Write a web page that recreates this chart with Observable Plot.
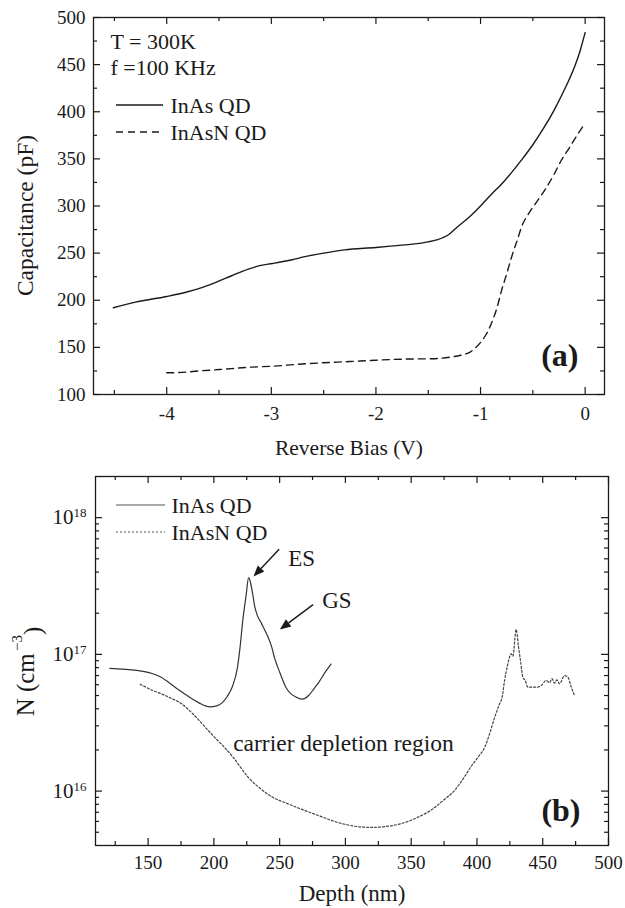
<!DOCTYPE html>
<html><head><meta charset="utf-8">
<script src="https://cdn.jsdelivr.net/npm/d3@7"></script>
<script src="https://cdn.jsdelivr.net/npm/@observablehq/plot@0.6"></script>
<style>
body{margin:0;background:#fff}
#chart{width:625px}
svg{display:block}
#chart svg, #chart svg text{font-family:"Liberation Serif","Times New Roman",serif !important;}
</style>
</head><body><div id="chart"></div>
<script>
// ---------- Panel (a) data: C-V ----------
const biasInAs = [-4.51,-4.30,-4.00,-3.80,-3.65,-3.53,-3.38,-3.22,-3.10,-2.99,-2.80,-2.69,-2.50,-2.30,-2.00,-1.80,-1.65,-1.50,-1.42,-1.30,-1.23,-1.11,-1.00,-0.90,-0.80,-0.70,-0.60,-0.50,-0.40,-0.30,-0.20,-0.10,-0.05,0];
const capInAs  = [192,198,204,209,214,219,226,233,237,239,243,246,250,253.5,256,258,259.5,262,264,270,277,288,300,312,323,336,350,365,382,401,423,448,464,484];
const biasInAsN = [-4.00,-3.85,-3.69,-3.50,-3.38,-3.20,-2.99,-2.75,-2.53,-2.25,-2.00,-1.75,-1.46,-1.30,-1.19,-1.10,-1.04,-0.98,-0.94,-0.88,-0.84,-0.80,-0.75,-0.70,-0.65,-0.60,-0.54,-0.46,-0.38,-0.30,-0.23,-0.15,-0.077,0];
const capInAsN  = [123,123.5,125,126.5,127.5,129,130,132,133.5,135,136.4,137.5,138,139.5,141.7,145,150.5,158,165,180,193,210,228,247,263.5,280,292,305,318,333,348,362,375,388];
const biasMajorTicks = [-4,-3,-2,-1,0];
const biasMinorTicks = [-4.5,-3.5,-2.5,-1.5,-0.5];
const capMajorTicks = [100,150,200,250,300,350,400,450,500];
const capMinorTicks = [125,175,225,275,325,375,425,475];

// ---------- Panel (b) data: N-depth ----------
const depthInAs = [121,130,141,153,160,165,171,177,183,189,194,197,202,206,210,214,218,220,222,224.5,226.4,228,229.4,231,233,236,238,241,244,246,248.5,251,254.5,258,262,267,272,276,280,285,289];
const nInAs = [7.9e16,7.8e16,7.65e16,7.25e16,6.8e16,6.3e16,5.7e16,5.2e16,4.75e16,4.4e16,4.18e16,4.13e16,4.2e16,4.4e16,4.9e16,5.8e16,8.1e16,1.15e17,1.78e17,2.7e17,3.64e17,3.3e17,2.8e17,2.25e17,1.93e17,1.7e17,1.55e17,1.35e17,1.13e17,9.5e16,8.1e16,7.0e16,5.8e16,5.2e16,4.9e16,4.7e16,5.0e16,5.6e16,6.3e16,7.5e16,8.5e16];
const depthInAsN = [144,153,161,168,174,180,188,195.5,201,207.6,215,225.8,235,243.9,256,268.2,280,292.4,302,310.6,320,328.8,338,347,356,365.2,374,383.3,390,395.5,401,406.1,410,413.6,417,419.2,421,423,424.7,426,427.3,429.8,431.6,433.1,434.9,436.7,438.7,446.3,448.9,452.7,455.2,457,459,460.8,462.8,466.6,469.2,471.7,474.2];
const nInAsN = [6.05e16,5.47e16,5.1e16,4.75e16,4.45e16,4.0e16,3.35e16,2.79e16,2.45e16,2.11e16,1.75e16,1.27e16,1.05e16,9.1e15,8.1e15,7.27e15,6.6e15,5.97e15,5.65e15,5.48e15,5.43e15,5.48e15,5.65e15,5.97e15,6.5e15,7.27e15,8.5e15,1.02e16,1.25e16,1.51e16,1.78e16,2.11e16,2.7e16,3.49e16,4.3e16,4.9e16,6.46e16,8.1e16,9.5e16,1.01e17,9.7e16,1.52e17,1.13e17,9.0e16,6.8e16,6.45e16,5.76e16,5.76e16,5.93e16,6.45e16,6.2e16,6.64e16,6.16e16,6.5e16,6.1e16,7.0e16,6.8e16,5.76e16,5.0e16];
const depthMajorTicks = [150,200,250,300,350,400,450,500];
const depthMinorTicks = [125,175,225,275,325,375,425,475];
const nMajorTicks = [1e16,1e17,1e18];
const nMinorTicks = [5e15,6e15,7e15,8e15,9e15,2e16,3e16,4e16,5e16,6e16,7e16,8e16,9e16,2e17,3e17,4e17,5e17,6e17,7e17,8e17,9e17];
// annotation arrows [x1, y1, x2(tip), y2(tip)]
const esArrow = [250, 5.83e17, 230.5, 3.68e17];
const gsArrow = [275.8, 2.29e17, 250.5, 1.51e17];

// ---------- style ----------
const W = 625;
const ink = "#1a1a1a";
const font = "Liberation Serif";

const tableA1 = biasInAs.map((v,i)=>({v, c: capInAs[i]}));
const tableA2 = biasInAsN.map((v,i)=>({v, c: capInAsN[i]}));
const tableB1 = depthInAs.map((d,i)=>({d, n: nInAs[i]}));
const tableB2 = depthInAsN.map((d,i)=>({d, n: nInAsN[i]}));

function frameTicks(fw, fh, xMaj, xMin, yMaj, yMin) {
  const majL = 7, minL = 4, sw = 1.2;
  const mk = [];
  for (const [vals, L] of [[xMaj, majL],[xMin, minL]]) {
    mk.push(Plot.ruleX(vals, {x: d=>d, insetTop: fh - L, stroke: ink, strokeWidth: sw}));
    mk.push(Plot.ruleX(vals, {x: d=>d, insetBottom: fh - L, stroke: ink, strokeWidth: sw}));
  }
  for (const [vals, L] of [[yMaj, majL],[yMin, minL]]) {
    mk.push(Plot.ruleY(vals, {y: d=>d, insetRight: fw - L, stroke: ink, strokeWidth: sw}));
    mk.push(Plot.ruleY(vals, {y: d=>d, insetLeft: fw - L, stroke: ink, strokeWidth: sw}));
  }
  return mk;
}

function legendSwatches(items) {
  return (index, scales, values, dims) => {
    const g = d3.create("svg:g");
    for (const it of items) {
      g.append("line")
        .attr("x1", dims.marginLeft + it.x0).attr("x2", dims.marginLeft + it.x1)
        .attr("y1", dims.marginTop + it.dy).attr("y2", dims.marginTop + it.dy)
        .attr("stroke", it.stroke).attr("stroke-width", it.width)
        .attr("stroke-dasharray", it.dash || null);
    }
    return g.node();
  };
}

function filledArrows(arrows) {
  return (index, scales) => {
    const g = d3.create("svg:g");
    for (const a of arrows) {
      const x1 = scales.x(a[0]), y1 = scales.y(a[1]), x2 = scales.x(a[2]), y2 = scales.y(a[3]);
      const ang = Math.atan2(y2 - y1, x2 - x1);
      const L = 11, Hw = 4.5;
      const bx = x2 - L*Math.cos(ang), by = y2 - L*Math.sin(ang);
      g.append("line").attr("x1", x1).attr("y1", y1).attr("x2", bx).attr("y2", by)
        .attr("stroke", ink).attr("stroke-width", 1.4);
      const px = -Math.sin(ang)*Hw, py = Math.cos(ang)*Hw;
      g.append("path").attr("d", `M${x2},${y2}L${bx+px},${by+py}L${bx-px},${by-py}Z`).attr("fill", ink);
    }
    return g.node();
  };
}

// ---------- Panel (a) ----------
const mA = {top:17, right:21, bottom:66, left:93};
const hA = 460;
const fwA = W - mA.left - mA.right, fhA = hA - mA.top - mA.bottom;

const plotA = Plot.plot({
  width: W, height: hA,
  marginTop: mA.top, marginRight: mA.right, marginBottom: mA.bottom, marginLeft: mA.left,
  x: {domain: [-4.7, 0.185], label: null},
  y: {domain: [100, 500], label: null},
  style: {fontFamily: font, color: ink, background: "#fff", overflow: "visible"},
  marks: [
    Plot.frame({stroke: ink, strokeWidth: 1.3}),
    ...frameTicks(fwA, fhA, biasMajorTicks, biasMinorTicks, capMajorTicks, capMinorTicks),
    Plot.axisX({ticks: biasMajorTicks, anchor: "bottom", tickSize: 0, tickPadding: 12, fontSize: 19, tickFormat: d => String(d), label: null, fill: ink}),
    Plot.axisY({ticks: capMajorTicks, anchor: "left", tickSize: 0, tickPadding: 8, fontSize: 19, tickFormat: d => String(d), label: null, fill: ink}),
    Plot.line(tableA1, {x: "v", y: "c", stroke: ink, strokeWidth: 1.4, curve: "monotone-x"}),
    Plot.line(tableA2, {x: "v", y: "c", stroke: ink, strokeWidth: 1.4, strokeDasharray: "7,5", curve: "monotone-x"}),
    Plot.text(["T = 300K"], {frameAnchor: "top-left", dx: 17, dy: 24, textAnchor: "start", lineAnchor: "middle", fontSize: 22, fill: ink}),
    Plot.text(["f =100 KHz"], {frameAnchor: "top-left", dx: 17, dy: 50, textAnchor: "start", lineAnchor: "middle", fontSize: 22, fill: ink}),
    Plot.text(["InAs QD"], {frameAnchor: "top-left", dx: 77, dy: 88, textAnchor: "start", lineAnchor: "middle", fontSize: 22, fill: ink}),
    Plot.text(["InAsN QD"], {frameAnchor: "top-left", dx: 77, dy: 115, textAnchor: "start", lineAnchor: "middle", fontSize: 22, fill: ink}),
    legendSwatches([
      {x0: 23, x1: 70, dy: 88, stroke: ink, width: 1.4},
      {x0: 23, x1: 70, dy: 115, stroke: ink, width: 1.4, dash: "7,5"}
    ]),
    Plot.text(["(a)"], {frameAnchor: "bottom-right", dx: -26, dy: -39, textAnchor: "end", lineAnchor: "middle", fontSize: 32, fontWeight: "bold", fill: ink}),
    Plot.text(["Reverse Bias (V)"], {frameAnchor: "bottom", dy: 54, textAnchor: "middle", lineAnchor: "middle", fontSize: 21.5, fill: ink}),
    Plot.text(["Capacitance (pF)"], {frameAnchor: "left", dx: -68, dy: 9.5, rotate: -90, textAnchor: "middle", lineAnchor: "middle", fontSize: 23.5, fill: ink})
  ]
});

// ---------- Panel (b) ----------
const mB = {top:16, right:17, bottom:63, left:95};
const hB = 448;
const fwB = W - mB.left - mB.right, fhB = hB - mB.top - mB.bottom;

const plotB = Plot.plot({
  width: W, height: hB,
  marginTop: mB.top, marginRight: mB.right, marginBottom: mB.bottom, marginLeft: mB.left,
  x: {domain: [110, 500], label: null},
  y: {type: "log", domain: [4e15, 2e18], label: null},
  style: {fontFamily: font, color: ink, background: "#fff", overflow: "visible"},
  marks: [
    Plot.frame({stroke: ink, strokeWidth: 1.3}),
    ...frameTicks(fwB, fhB, depthMajorTicks, depthMinorTicks, nMajorTicks, nMinorTicks),
    Plot.axisX({ticks: depthMajorTicks, anchor: "bottom", tickSize: 0, tickPadding: 10, fontSize: 19, tickFormat: d => String(d), label: null, fill: ink}),
    Plot.axisY({ticks: nMajorTicks, anchor: "left", tickSize: 0, tickPadding: 9, fontSize: 21, tickFormat: d => String(Math.round(Math.log10(d))), label: null, fill: ink}),
    Plot.line(tableB1, {x: "d", y: "n", stroke: "#333", strokeWidth: 1.2, curve: "monotone-x"}),
    Plot.line(tableB2, {x: "d", y: "n", stroke: "#444", strokeWidth: 1.2, strokeDasharray: "2,2", curve: "monotone-x"}),
    Plot.text(["InAs QD"], {frameAnchor: "top-left", dx: 76, dy: 29, textAnchor: "start", lineAnchor: "middle", fontSize: 22, fill: ink}),
    Plot.text(["InAsN QD"], {frameAnchor: "top-left", dx: 76, dy: 56, textAnchor: "start", lineAnchor: "middle", fontSize: 22, fill: ink}),
    legendSwatches([
      {x0: 21, x1: 70, dy: 29, stroke: "#555", width: 1.2},
      {x0: 21, x1: 70, dy: 56, stroke: "#555", width: 1.2, dash: "2,2"}
    ]),
    Plot.text([{x: 266.7, y: 5.0e17, t: "ES"}, {x: 293.5, y: 2.49e17, t: "GS"}], {x: "x", y: "y", text: "t", fontSize: 23, lineAnchor: "middle", fill: ink}),
    Plot.text([{x: 298.5, y: 2.23e16, t: "carrier depletion region"}], {x: "x", y: "y", text: "t", fontSize: 23.5, lineAnchor: "middle", fill: ink}),
    filledArrows([esArrow, gsArrow]),
    Plot.text(["(b)"], {frameAnchor: "bottom-right", dx: -28, dy: -35, textAnchor: "end", lineAnchor: "middle", fontSize: 32, fontWeight: "bold", fill: ink}),
    Plot.text(["Depth (nm)"], {frameAnchor: "bottom", dy: 48, textAnchor: "middle", lineAnchor: "middle", fontSize: 23, fill: ink}),
    Plot.text(["N (cm-3)"], {frameAnchor: "left", dx: -70, dy: 10.5, rotate: -90, textAnchor: "middle", lineAnchor: "middle", fontSize: 25, fill: ink})
  ]
});

// superscripts for log tick labels
d3.select(plotB).selectAll('g[aria-label="y-axis tick label"] text').each(function() {
  const e = this.textContent;
  const t = d3.select(this);
  t.text("10");
  t.append("tspan").attr("dy", "-0.55em").attr("font-size", "0.62em").text(e);
});
d3.select(plotB).selectAll('text').filter(function() { return this.textContent === "N (cm-3)"; }).each(function() {
  const t = d3.select(this);
  t.text("N (cm");
  t.append("tspan").attr("dy", "-0.75em").attr("dx", "0.15em").attr("font-size", "0.6em").text("\u22123");
  t.append("tspan").attr("dy", "0.75em").text(")");
});

const root = document.getElementById("chart");
root.appendChild(plotA);
root.appendChild(plotB);
</script></body></html>
